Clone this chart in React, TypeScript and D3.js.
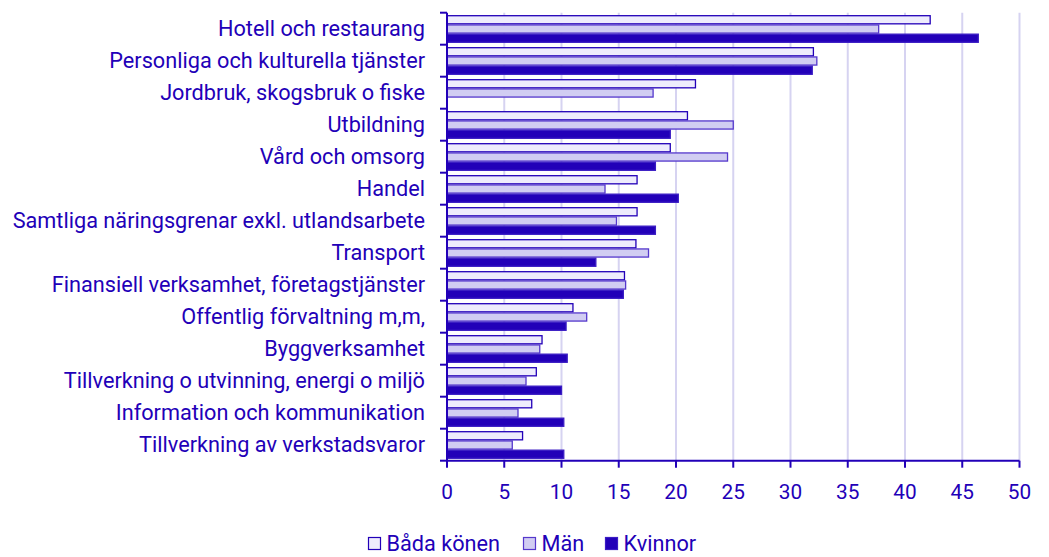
import React from "react";
import * as d3 from "d3";

// categories top to bottom
const categories = [
  "Hotell och restaurang",
  "Personliga och kulturella tjänster",
  "Jordbruk, skogsbruk o fiske",
  "Utbildning",
  "Vård och omsorg",
  "Handel",
  "Samtliga näringsgrenar exkl. utlandsarbete",
  "Transport",
  "Finansiell verksamhet, företagstjänster",
  "Offentlig förvaltning m,m,",
  "Byggverksamhet",
  "Tillverkning o utvinning, energi o miljö",
  "Information och kommunikation",
  "Tillverkning av verkstadsvaror",
];

const bada = [42.2, 32.0, 21.7, 21.0, 19.5, 16.6, 16.6, 16.5, 15.5, 11.0, 8.3, 7.8, 7.4, 6.6];
const man = [37.7, 32.3, 18.0, 25.0, 24.5, 13.8, 14.8, 17.6, 15.6, 12.2, 8.1, 6.9, 6.2, 5.7];
const kvinnor: (number | null)[] = [46.4, 31.9, null, 19.5, 18.2, 20.2, 18.2, 13.0, 15.4, 10.4, 10.5, 10.0, 10.2, 10.2];

const seriesNames = ["Båda könen", "Män", "Kvinnor"];
const xTicks = [0, 5, 10, 15, 20, 25, 30, 35, 40, 45, 50];

const W = 1049, H = 557;
const DARK = "#2200b8";
const FONT = "Roboto, 'Noto Sans', sans-serif";
const FS = 21.7;
const TICK_FS = 20.8;

const fills = ["#eeecfc", "#d1cdf2", DARK];
const strokes = [DARK, "#5538cc", "#3a1cc4"];

export default function App() {
  const left = 447, right = 1019.5, top = 12.7, bottom = 460.7;

  const x = d3.scaleLinear().domain([0, 50]).range([left, right]);
  const y = d3.scaleBand<string>().domain(categories).range([top, bottom]).padding(0);
  const inner = d3.scaleBand<string>().domain(seriesNames).range([3, 29.6]).paddingInner(0.12);

  const series = [bada, man, kvinnor];

  return (
    <svg width={W} height={H} style={{ position: "absolute", left: 0, top: 0 }} fontFamily={FONT}>
      {/* grid */}
      {xTicks.filter(t => t > 0).map(t => (
        <line key={"g" + t} x1={x(t)} x2={x(t)} y1={top} y2={bottom} stroke="#d6d3f1" strokeWidth={2} />
      ))}

      {/* bars */}
      {categories.map((c, i) => (
        <g key={c} transform={`translate(0,${y(c)})`}>
          {series.map((s, k) => {
            const v = s[i];
            if (v == null) return null;
            return (
              <rect
                key={k}
                x={x(0)}
                y={inner(seriesNames[k])}
                width={x(v) - x(0)}
                height={inner.bandwidth()}
                fill={fills[k]}
                stroke={strokes[k]}
                strokeWidth={1.3}
              />
            );
          })}
        </g>
      ))}

      {/* y axis */}
      <line x1={left} x2={left} y1={top} y2={bottom} stroke={DARK} strokeWidth={2} />
      {d3.range(categories.length + 1).map(i => {
        const yy = top + i * y.step();
        return <line key={"yt" + i} x1={left - 7} x2={left} y1={yy} y2={yy} stroke={DARK} strokeWidth={2} />;
      })}
      {categories.map(c => (
        <text key={"l" + c} x={425} y={(y(c) ?? 0) + y.bandwidth() / 2} dy="0.35em" textAnchor="end" fontSize={FS} fill={DARK}>
          {c}
        </text>
      ))}

      {/* x axis */}
      <line x1={left} x2={right} y1={bottom} y2={bottom} stroke={DARK} strokeWidth={2} />
      {xTicks.map(t => (
        <g key={"xt" + t}>
          <line x1={x(t)} x2={x(t)} y1={bottom} y2={bottom + 7} stroke={DARK} strokeWidth={2} />
          <text x={x(t)} y={bottom + 31} dy="0.35em" textAnchor="middle" fontSize={TICK_FS} fill={DARK}>
            {t}
          </text>
        </g>
      ))}

      {/* legend */}
      {(() => {
        const pos = [368, 523, 605];
        return seriesNames.map((n, k) => (
          <g key={"lg" + n} transform={`translate(${pos[k]},537)`}>
            <rect x={0.5} y={0.5} width={12} height={12} fill={fills[k]} stroke={strokes[k]} strokeWidth={1.2} />
            <text x={18.5} y={6.5} dy="0.35em" fontSize={FS} fill={DARK}>{n}</text>
          </g>
        ));
      })()}
    </svg>
  );
}
